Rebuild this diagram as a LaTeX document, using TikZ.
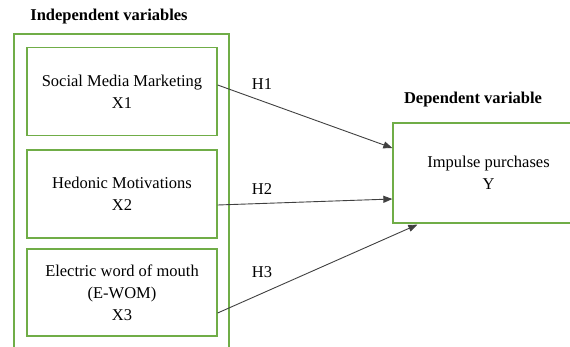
\documentclass[tikz,border=0pt]{standalone}
\usepackage{fontspec}
\setmainfont{Liberation Serif}
\usetikzlibrary{arrows.meta}
\definecolor{boxgreen}{RGB}{112,173,71}
\begin{document}
\begin{tikzpicture}[x=1pt,y=-1pt]
        \tikzstyle{every node}=[font=\fontsize{16.5}{21.8}\selectfont, align=center]
        \tikzstyle{varbox}=[draw=boxgreen, line width=1.3pt, minimum width=190pt, minimum height=88pt, inner sep=0pt]
        \tikzstyle{title}=[font=\fontsize{16.5}{21.8}\selectfont\bfseries]
        \tikzstyle{hyp}=[draw=black!75, line width=0.9pt, -{Triangle[length=9pt,width=7pt]}]
        \useasboundingbox (0,0) rectangle (570,347);
        \clip (0,0) rectangle (570,347);
        % outer frame, runs off the bottom
        \draw[boxgreen, line width=1.3pt] (14,360) -- (14,34) -- (229,34) -- (229,360);
        \node[title] (indep) at (109,17) {Independent variables};
        \node[title] (dep) at (473,100) {Dependent variable};
        \node[varbox] (smm) at (122,91.5) {Social Media Marketing\\X1};
        \node[varbox] (hm) at (122,194) {Hedonic Motivations\\X2};
        \node[varbox, minimum height=87pt] (ewom) at (122,292.5) {Electric word of mouth\\(E-WOM)\\X3};
        \node[varbox, minimum width=191pt, minimum height=100pt] (ip) at (488.5,173) {Impulse purchases\\Y};
        % hypotheses
        \draw[hyp] ([yshift=6.5pt]smm.east) -- ([yshift=25pt]ip.west);
        \draw[hyp] ([yshift=-11pt]hm.east) -- ([yshift=-26pt]ip.west);
        \draw[hyp] ([yshift=-20.5pt]ewom.east) -- ([xshift=25pt,yshift=-1pt]ip.south west);
        \node (h1) at (262,84) {H1};
        \node (h2) at (262,189) {H2};
        \node (h3) at (262,272) {H3};
\end{tikzpicture}
\end{document}
